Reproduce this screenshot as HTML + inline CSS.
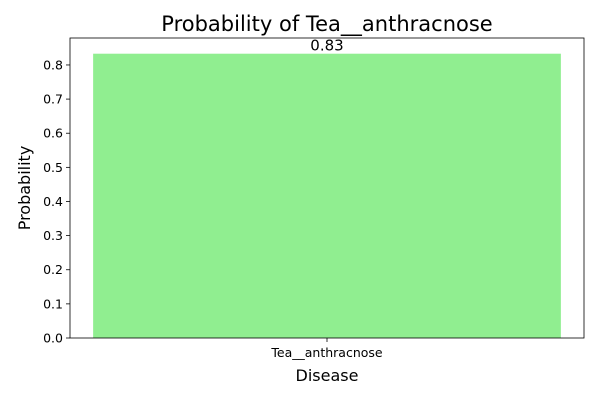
<!DOCTYPE html>
<html><head><meta charset="utf-8"><style>
body{margin:0;background:#fff;}
svg text{font-family:"DejaVu Sans","Liberation Sans",sans-serif;}
</style></head><body>
<svg id="chart" width="600" height="400" viewBox="0 0 600 400">
<rect width="600" height="400" fill="#fff"/>
<g id="plot"></g>
</svg>
<script>
const categories = ["Tea__anthracnose"];
const probabilities = [0.833];
const valueLabels = ["0.83"];
const yTicks = [0,0.1,0.2,0.3,0.4,0.5,0.6,0.7,0.8];
const yMax = 0.879;

const L=70,R=584,T=38,B=338;
const NS="http://www.w3.org/2000/svg";
const g=document.getElementById('plot');
function y(v){return B-(v/yMax)*(B-T);}
function xBand(i){const n=categories.length;const w=(R-L)/(n);return L+w*i+w/2;}
const bw=(R-L)/categories.length*0.91;
function el(tag,attrs,txt){const e=document.createElementNS(NS,tag);for(const k in attrs)e.setAttribute(k,attrs[k]);if(txt!==undefined)e.textContent=txt;g.appendChild(e);return e;}

categories.forEach((c,i)=>{
  const cx=xBand(i);
  const b=el('rect',{x:cx-bw/2,y:y(probabilities[i]),width:bw,height:B-y(probabilities[i]),fill:'#90ee90'});
  
  
  const t=el('text',{x:cx,y:y(probabilities[i])-3,'text-anchor':'middle','font-size':15,fill:'#000'},valueLabels[i]);
  
  
  const tk=el('line',{x1:cx,x2:cx,y1:B,y2:B+4,stroke:'#000','stroke-width':0.8});
  
  
  const tl=el('text',{x:cx,y:B+19,'text-anchor':'middle','font-size':12.5,fill:'#000'},c);
  
  
});
yTicks.forEach(v=>{
  const tk=el('line',{x1:L-4,x2:L,y1:y(v),y2:y(v),stroke:'#000','stroke-width':0.8});
  
  
  const tl=el('text',{x:L-7,y:y(v)+4.5,'text-anchor':'end','font-size':12.5,fill:'#000'},v.toFixed(1));
  
  
});
const fr=el('rect',{x:L,y:T,width:R-L,height:B-T,fill:'none',stroke:'#000','stroke-width':0.8});


const ti=el('text',{x:327,y:31,'text-anchor':'middle','font-size':21,fill:'#000'},'Probability of Tea__anthracnose');


const xt=el('text',{x:327,y:381,'text-anchor':'middle','font-size':16,fill:'#000'},'Disease');


const yt=el('text',{x:30,y:188,'text-anchor':'middle','font-size':16,fill:'#000',transform:'rotate(-90 30 188)'},'Probability');


</script>
</body></html>
